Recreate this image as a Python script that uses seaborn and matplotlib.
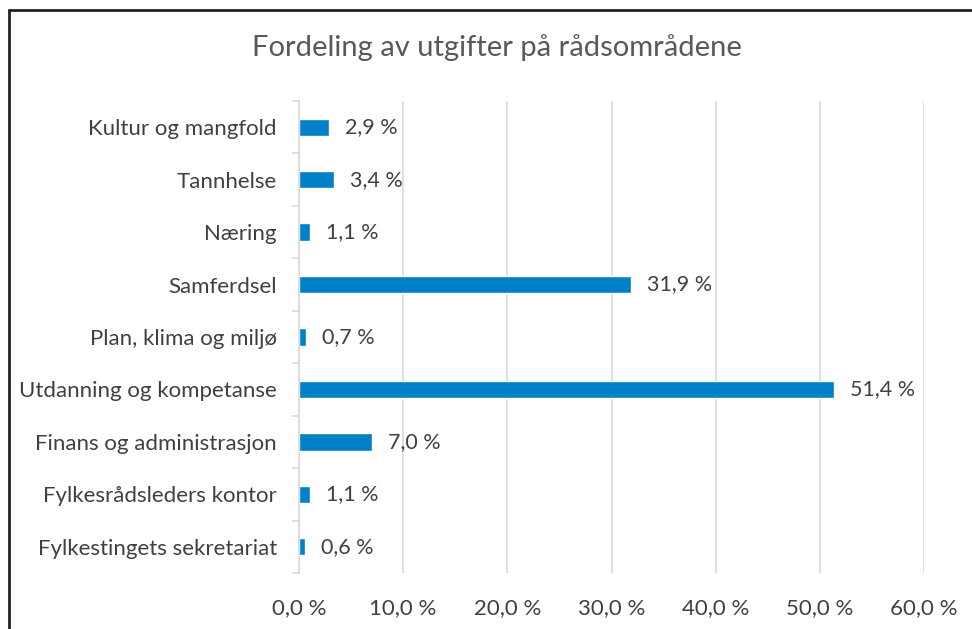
import matplotlib
matplotlib.use("Agg")
import matplotlib.pyplot as plt
import seaborn as sns
import pandas as pd
from matplotlib.lines import Line2D

categories = [
    "Kultur og mangfold",
    "Tannhelse",
    "Næring",
    "Samferdsel",
    "Plan, klima og miljø",
    "Utdanning og kompetanse",
    "Finans og administrasjon",
    "Fylkesrådsleders kontor",
    "Fylkestingets sekretariat",
]
shares = [2.9, 3.4, 1.1, 31.9, 0.7, 51.4, 7.0, 1.1, 0.6]
x_ticks = [0, 10, 20, 30, 40, 50, 60]

df = pd.DataFrame({"omrade": categories, "andel": shares})

sns.set_theme(style="white")
plt.rcParams["font.family"] = ["Lato", "DejaVu Sans"]

fig = plt.figure(figsize=(9.72, 6.29), dpi=100)
ax = fig.add_axes([299 / 972, 1 - 573 / 629, (924 - 299) / 972, (573 - 101) / 629])

sns.barplot(data=df, x="andel", y="omrade", order=categories, color="#0080C6",
            saturation=1, width=0.33, ax=ax)

ax.set_xlim(0, 60)
ax.set_ylim(len(categories) - 0.5, -0.5)
ax.set_xticks(x_ticks)
ax.set_xticklabels([f"{v:.1f} %".replace(".", ",") for v in x_ticks])
ax.xaxis.grid(True, color="#D9D9D9", linewidth=1.2)
ax.set_axisbelow(True)
ax.set_xlabel("")
ax.set_ylabel("")

for s in ["top", "right", "bottom"]:
    ax.spines[s].set_visible(False)
ax.spines["left"].set_color("#D9D9D9")
ax.spines["left"].set_linewidth(1.2)

# tick marks between categories
ax.set_yticks(range(len(categories)))
ax.set_yticks([i + 0.5 for i in range(-1, len(categories))], minor=True)
ax.tick_params(axis="y", which="major", length=0, pad=16, labelsize=16, labelcolor="#404040")
ax.tick_params(axis="y", which="minor", length=5, color="#D9D9D9", width=1.2, left=True)
ax.tick_params(axis="x", length=0, pad=18, labelsize=16, labelcolor="#404040")

for i, v in enumerate(shares):
    ax.text(v + 1.5, i, f"{v:.1f} %".replace(".", ","), va="center", ha="left",
            fontsize=15.5, color="#404040")

fig.text(497 / 972, 1 - 48 / 629, "Fordeling av utgifter på rådsområdene", ha="center",
         va="center", fontsize=21, color="#595959")

# outer frame (left and top edges only, as in the crop)
fig.add_artist(Line2D([8.5 / 972, 8.5 / 972], [0, 1 - 9.5 / 629], color="#222222",
                      linewidth=2, transform=fig.transFigure))
fig.add_artist(Line2D([8.5 / 972, 1], [1 - 9.5 / 629, 1 - 9.5 / 629], color="#222222",
                      linewidth=2, transform=fig.transFigure))

fig.savefig("out.png", dpi=100, facecolor="white")
